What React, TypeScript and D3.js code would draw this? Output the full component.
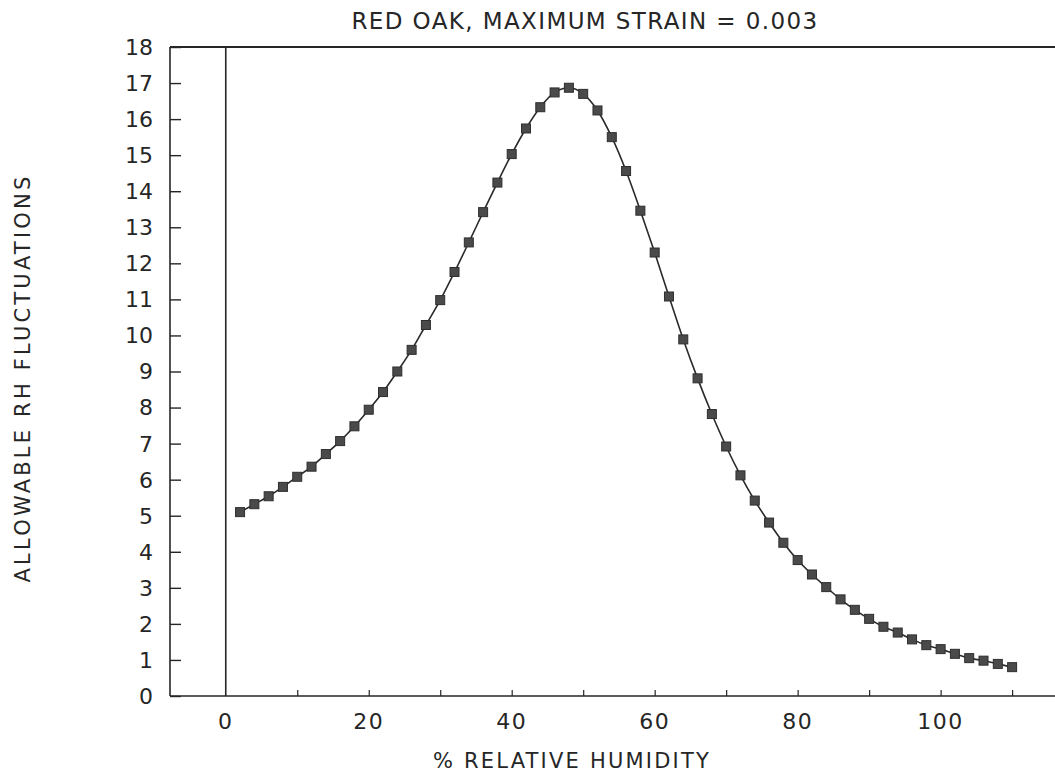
import { useRef, useEffect } from 'react';
import * as d3 from 'd3';

// relative humidity (%) of each plotted point
const humidity = [
  2, 4, 6, 8, 10, 12, 14, 16, 18, 20, 22, 24, 26, 28, 30, 32, 34, 36, 38, 40,
  42, 44, 46, 48, 50, 52, 54, 56, 58, 60, 62, 64, 66, 68, 70, 72, 74, 76, 78,
  80, 82, 84, 86, 88, 90, 92, 94, 96, 98, 100, 102, 104, 106, 108, 110,
];

// allowable RH fluctuation
const fluctuation = [
  5.1, 5.32, 5.54, 5.8, 6.08, 6.36, 6.71, 7.07, 7.48, 7.94, 8.43, 9.0, 9.6,
  10.29, 10.98, 11.76, 12.58, 13.42, 14.24, 15.03, 15.74, 16.33, 16.74, 16.87,
  16.7, 16.24, 15.5, 14.56, 13.46, 12.3, 11.08, 9.89, 8.81, 7.82, 6.92, 6.12,
  5.42, 4.81, 4.25, 3.77, 3.37, 3.02, 2.68, 2.39, 2.14, 1.92, 1.76, 1.57, 1.41,
  1.3, 1.17, 1.05, 0.98, 0.89, 0.8,
];

const xTickLabels = [0, 20, 40, 60, 80, 100];
const xMinorTicks = [10, 20, 30, 40, 50, 60, 70, 80, 90, 100, 110];
const yTicks = [0, 1, 2, 3, 4, 5, 6, 7, 8, 9, 10, 11, 12, 13, 14, 15, 16, 17, 18];

const title = 'RED OAK, MAXIMUM STRAIN = 0.003';
const xTitle = '% RELATIVE HUMIDITY';
const yTitle = 'ALLOWABLE RH FLUCTUATIONS';

const W = 1055;
const H = 776;
const FONT = '"DejaVu Sans", sans-serif';
const INK = '#262626';

export default function App() {
  const svgRef = useRef<SVGSVGElement>(null);

  useEffect(() => {
    if (!svgRef.current) return;
    const root = d3.select(svgRef.current);
    root.selectAll('*').remove();

    const left = 170;
    const top = 47;
    const bottom = 696;

    const x = d3.scaleLinear().domain([-7.8, 116]).range([left, W]);
    const y = d3.scaleLinear().domain([0, 18]).range([bottom, top]);

    const points = humidity.map((h, i) => ({ h, v: fluctuation[i] }));

    // frame: left, top, bottom, plus vertical line at 0 %
    const frame = root.append('g').attr('stroke', INK).attr('fill', 'none');
    frame.append('line').attr('x1', left).attr('x2', left).attr('y1', top).attr('y2', bottom).attr('stroke-width', 1.6);
    frame.append('line').attr('x1', left).attr('x2', W).attr('y1', top).attr('y2', top).attr('stroke-width', 1.8);
    frame.append('line').attr('x1', left).attr('x2', W).attr('y1', bottom).attr('y2', bottom).attr('stroke-width', 1.6);
    frame.append('line').attr('x1', x(0)).attr('x2', x(0)).attr('y1', top).attr('y2', bottom).attr('stroke-width', 1.6);

    // y axis ticks (inward) and labels
    const yAxis = root.append('g')
      .attr('transform', `translate(${left},0)`)
      .call(d3.axisRight(y).tickValues(yTicks).tickSize(11).tickFormat(() => ''));
    yAxis.select('.domain').remove();
    yAxis.selectAll('line').attr('stroke', INK).attr('stroke-width', 1.4);

    root.append('g')
      .selectAll('text')
      .data(yTicks)
      .enter()
      .append('text')
      .attr('x', left - 17)
      .attr('y', d => y(d))
      .attr('dy', '0.36em')
      .attr('text-anchor', 'end')
      .attr('font-family', FONT)
      .attr('font-size', 22)
      .attr('fill', INK)
      .text(d => d);

    // x axis small ticks (upward) and labels
    const xAxis = root.append('g')
      .attr('transform', `translate(0,${bottom})`)
      .call(d3.axisTop(x).tickValues(xMinorTicks).tickSize(6).tickFormat(() => ''));
    xAxis.select('.domain').remove();
    xAxis.selectAll('line').attr('stroke', INK).attr('stroke-width', 1.2);

    root.append('g')
      .selectAll('text')
      .data(xTickLabels)
      .enter()
      .append('text')
      .attr('x', d => x(d))
      .attr('y', 729)
      .attr('text-anchor', 'middle')
      .attr('font-family', FONT)
      .attr('font-size', 22)
      .attr('letter-spacing', 1.5)
      .attr('fill', INK)
      .text(d => d);

    // curve
    const line = d3.line<{ h: number; v: number }>()
      .x(d => x(d.h))
      .y(d => y(d.v))
      .curve(d3.curveMonotoneX);

    root.append('path')
      .datum(points)
      .attr('d', line)
      .attr('fill', 'none')
      .attr('stroke', '#2a2a2a')
      .attr('stroke-width', 1.6);

    // square markers
    const size = 9;
    root.append('g')
      .selectAll('rect')
      .data(points)
      .enter()
      .append('rect')
      .attr('x', d => x(d.h) - size / 2)
      .attr('y', d => y(d.v) - size / 2)
      .attr('width', size)
      .attr('height', size)
      .attr('fill', '#4a4a4a')
      .attr('stroke', '#2e2e2e')
      .attr('stroke-width', 1);

    // titles
    root.append('text')
      .attr('x', 585)
      .attr('y', 29)
      .attr('text-anchor', 'middle')
      .attr('font-family', FONT)
      .attr('font-size', 23)
      .attr('letter-spacing', 1.4)
      .attr('fill', INK)
      .text(title);

    root.append('text')
      .attr('x', 572)
      .attr('y', 768)
      .attr('text-anchor', 'middle')
      .attr('font-family', FONT)
      .attr('font-size', 21)
      .attr('letter-spacing', 2.2)
      .attr('fill', INK)
      .text(xTitle);

    root.append('text')
      .attr('transform', `translate(30,${378}) rotate(-90)`)
      .attr('text-anchor', 'middle')
      .attr('font-family', FONT)
      .attr('font-size', 21)
      .attr('letter-spacing', 3.2)
      .attr('fill', INK)
      .text(yTitle);
  }, []);

  return (
    <svg
      ref={svgRef}
      width={W}
      height={H}
      style={{ position: 'absolute', left: 0, top: 0, background: '#fff' }}
    />
  );
}
